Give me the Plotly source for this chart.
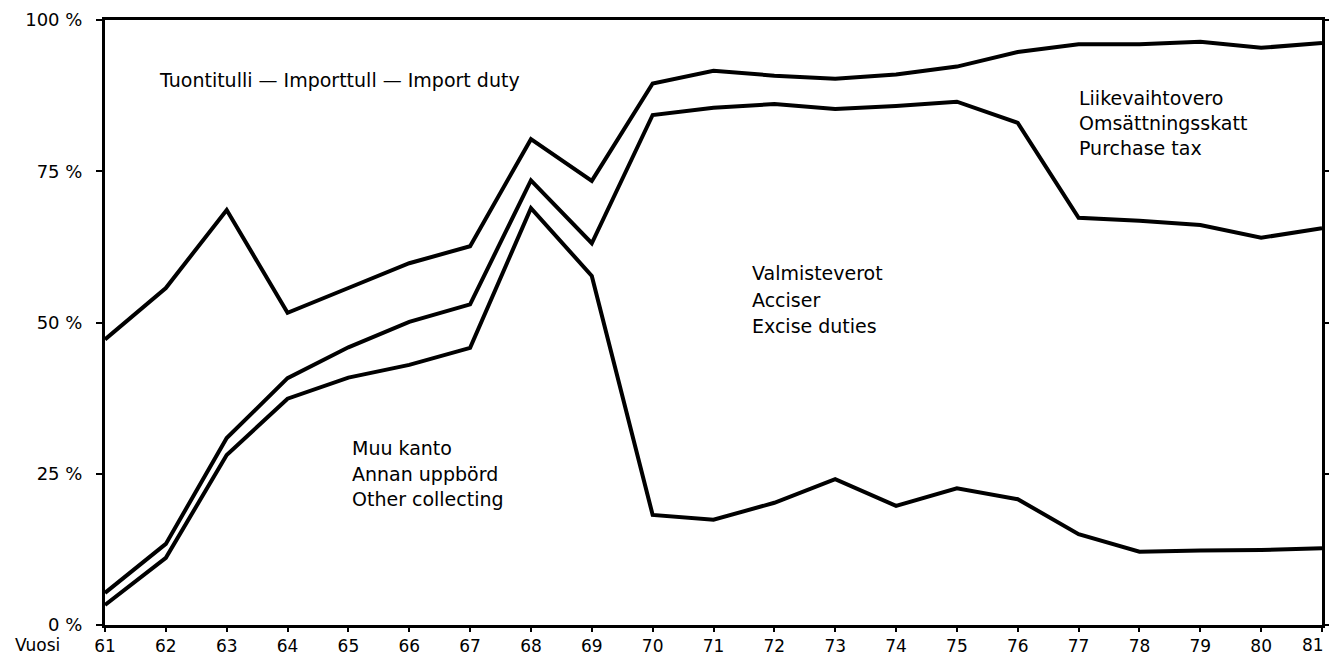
import plotly.graph_objects as go

# Data (percent shares, cumulative boundaries), years 1961-1981
years = list(range(61, 82))
line_muu = [3.3, 11.1, 28.1, 37.4, 40.9, 43.0, 45.8, 68.9, 57.7, 18.2, 17.4,
            20.2, 24.1, 19.7, 22.6, 20.8, 15.0, 12.1, 12.3, 12.4, 12.7]
line_valm = [5.3, 13.4, 30.9, 40.8, 45.9, 50.1, 53.0, 73.5, 63.1, 84.3, 85.5,
             86.1, 85.3, 85.8, 86.5, 83.0, 67.3, 66.8, 66.1, 64.0, 65.6]
line_liike = [47.2, 55.7, 68.6, 51.6, 55.7, 59.8, 62.6, 80.3, 73.4, 89.5, 91.6,
              90.8, 90.3, 91.0, 92.3, 94.7, 96.0, 96.0, 96.4, 95.4, 96.2]

y_ticks = [0, 25, 50, 75, 100]
y_ticktext = ["0 %", "25 %", "50 %", "75 %", "100 %"]
x_labels = [str(y) for y in years]
# the last label sits against the right edge; drawn as an annotation below
x_ticktext = x_labels[:-1] + [""]

FONT = "DejaVu Sans"
W, H = 1329, 658
L, R, T, B = 105, 7, 20, 33
pw, ph = W - L - R, H - T - B


def px(x):
    return (x - L) / pw


def py(y):
    return (H - B - y) / ph


fig = go.Figure()
for name, vals in [("Muu kanto", line_muu), ("Valmisteverot", line_valm),
                   ("Liikevaihtovero", line_liike)]:
    fig.add_trace(go.Scatter(x=years, y=vals, mode="lines", name=name,
                             line=dict(color="black", width=4),
                             showlegend=False, hoverinfo="x+y"))

labels = [
    ("Tuontitulli \u2014 Importtull \u2014 Import duty", 157, 80),
    ("Muu kanto", 350, 448),
    ("Annan uppbörd", 350, 474),
    ("Other collecting", 350, 499),
    ("Valmisteverot", 750, 273),
    ("Acciser", 750, 300),
    ("Excise duties", 750, 326),
    ("Liikevaihtovero", 1077, 98),
    ("Omsättningsskatt", 1077, 123),
    ("Purchase tax", 1077, 148),
]
annotations = []
for text, x, y in labels:
    annotations.append(dict(text=text, x=px(x), y=py(y), xref="paper", yref="paper",
                            xanchor="left", yanchor="middle", showarrow=False,
                            font=dict(family=FONT, size=19, color="black")))
annotations.append(dict(text="Vuosi", x=px(37), y=py(645), xref="paper", yref="paper",
                        xanchor="center", yanchor="middle", showarrow=False,
                        font=dict(family=FONT, size=17, color="black")))
annotations.append(dict(text=x_labels[-1], x=years[-1], xref="x", y=py(645), yref="paper",
                        xanchor="right", yanchor="middle", xshift=4, showarrow=False,
                        font=dict(family=FONT, size=17, color="black")))

fig.update_layout(
    width=W, height=H,
    margin=dict(l=L, r=R, t=T, b=B),
    paper_bgcolor="white", plot_bgcolor="white",
    font=dict(family=FONT, size=18, color="black"),
    annotations=annotations,
    xaxis=dict(range=[61, 81], tickvals=years, ticktext=x_ticktext,
               showgrid=False, zeroline=False, showline=True, linecolor="black",
               linewidth=3, mirror=True, ticks="outside", ticklen=4, tickwidth=2,
               tickcolor="black", ticklabelstandoff=0, automargin=False,
               tickfont=dict(family=FONT, size=17, color="black"),
               fixedrange=True),
    yaxis=dict(range=[0, 100], tickvals=y_ticks, ticktext=y_ticktext,
               showgrid=False, zeroline=False, showline=True, linecolor="black",
               linewidth=3, mirror="ticks", ticks="outside", ticklen=6, tickwidth=2,
               tickcolor="black", ticklabelstandoff=10, automargin=False,
               fixedrange=True),
)

fig.write_html(
    "out.html",
    config={"displayModeBar": False},
    post_script="document.body.style.margin='0';"
                "document.documentElement.style.overflow='hidden';",
)
